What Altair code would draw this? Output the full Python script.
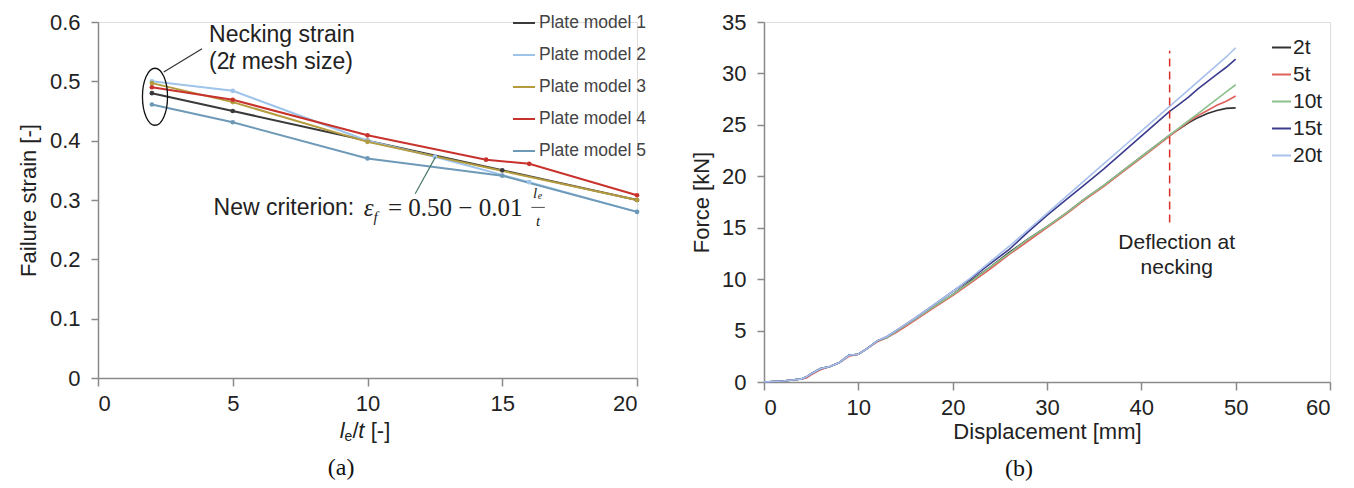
import altair as alt
import pandas as pd

# ---------------- Panel (a) data ----------------
models = ["Plate model 1", "Plate model 2", "Plate model 3", "Plate model 4", "Plate model 5"]
model_colors = ["#3a3a3a", "#9ec4ea", "#b39b3e", "#c8322c", "#6e9ab8"]
m1_x = [2, 5, 10, 15, 20]
m1_y = [0.480, 0.450, 0.400, 0.350, 0.300]
m2_x = [2, 5, 10, 12.5, 16, 20]
m2_y = [0.500, 0.484, 0.400, 0.373, 0.330, 0.280]
m3_x = [2, 5, 10, 20]
m3_y = [0.497, 0.465, 0.398, 0.300]
m4_x = [2, 5, 10, 14.4, 16, 20]
m4_y = [0.490, 0.469, 0.409, 0.368, 0.361, 0.308]
m5_x = [2, 5, 10, 15, 20]
m5_y = [0.461, 0.431, 0.370, 0.341, 0.280]

# ---------------- Panel (b) data ----------------
meshes = ["2t", "5t", "10t", "15t", "20t"]
mesh_colors = ["#333333", "#e0605a", "#8cc08c", "#3b3b8f", "#a7c0ec"]
disp = [0, 1, 2, 3, 4, 4.5, 5, 6, 7, 8, 9, 10, 11, 12, 13, 14, 15, 16, 18, 20, 22, 24, 26,
        28, 30, 32, 34, 36, 38, 40, 42, 43, 44, 45, 46, 47, 48, 49, 50]
f_2t = [0, 0.05, 0.1, 0.2, 0.3, 0.5, 0.8, 1.3, 1.5, 1.9, 2.6, 2.7, 3.3, 4.0, 4.3, 4.9, 5.5, 6.1, 7.3, 8.5,
        9.9, 11.2, 12.6, 13.9, 15.1, 16.4, 17.8, 19.1, 20.5, 21.9, 23.3, 24.0, 24.6, 25.2, 25.7, 26.1,
        26.4, 26.6, 26.65]
f_5t = [0, 0.05, 0.1, 0.2, 0.3, 0.4, 0.7, 1.2, 1.5, 1.9, 2.5, 2.7, 3.3, 3.9, 4.3, 4.8, 5.4, 6.0, 7.2, 8.4,
        9.7, 11.0, 12.4, 13.7, 15.0, 16.3, 17.7, 19.0, 20.4, 21.8, 23.2, 23.9, 24.6, 25.3, 25.9, 26.4,
        26.9, 27.3, 27.8]
f_10t = [0, 0.05, 0.1, 0.2, 0.3, 0.5, 0.8, 1.3, 1.5, 1.9, 2.6, 2.7, 3.3, 4.0, 4.3, 4.9, 5.5, 6.1, 7.3, 8.5,
         9.8, 11.2, 12.5, 13.9, 15.1, 16.4, 17.8, 19.1, 20.5, 21.9, 23.3, 24.0, 24.7, 25.4, 26.1, 26.8,
         27.5, 28.2, 28.9]
f_15t = [0, 0.05, 0.1, 0.2, 0.3, 0.5, 0.8, 1.3, 1.5, 1.9, 2.6, 2.7, 3.3, 4.0, 4.4, 5.0, 5.6, 6.2, 7.5, 8.8,
         10.1, 11.5, 12.9, 14.6, 16.2, 17.7, 19.2, 20.7, 22.3, 23.9, 25.5, 26.3, 27.0, 27.7, 28.5, 29.2,
         29.9, 30.6, 31.4]
f_20t = [0, 0.05, 0.1, 0.2, 0.3, 0.5, 0.8, 1.3, 1.5, 1.9, 2.6, 2.7, 3.3, 4.0, 4.4, 5.0, 5.6, 6.2, 7.5, 8.8,
         10.2, 11.7, 13.2, 14.8, 16.4, 18.0, 19.6, 21.2, 22.8, 24.4, 26.0, 26.8, 27.6, 28.4, 29.2, 30.0,
         30.8, 31.6, 32.5]

SANS = "Liberation Sans"
SERIF = "Liberation Serif"
AX = "#8a8a8a"
TXT = "#222222"

rows = []
for name, xs, ys in zip(models, [m1_x, m2_x, m3_x, m4_x, m5_x], [m1_y, m2_y, m3_y, m4_y, m5_y]):
    for x, y in zip(xs, ys):
        rows.append({"model": name, "ratio": x, "strain": y})
left_df = pd.DataFrame(rows)

rows = []
for name, ys in zip(meshes, [f_2t, f_5t, f_10t, f_15t, f_20t]):
    for x, y in zip(disp, ys):
        rows.append({"mesh": name, "disp": x, "force": y})
right_df = pd.DataFrame(rows)

one = pd.DataFrame({"a": [0]})


def axis_common(**kw):
    return alt.Axis(domainColor=AX, domainWidth=1.5, tickColor=AX, tickWidth=1.5, grid=False,
                    labelFont=SANS, labelFontSize=22, labelColor=TXT,
                    titleFont=SANS, titleFontSize=22, titleFontWeight="normal", titleColor=TXT, **kw)


xL = alt.X("ratio:Q", scale=alt.Scale(domain=[0, 20], nice=False),
           axis=axis_common(values=[0, 5, 10, 15, 20], title=None, tickSize=8, labelPadding=7))
yL = alt.Y("strain:Q", scale=alt.Scale(domain=[0, 0.6], nice=False),
           axis=axis_common(values=[0, 0.1, 0.2, 0.3, 0.4, 0.5, 0.6], title="Failure strain [-]",
                            tickSize=7, labelPadding=11, titlePadding=9,
                            labelExpr="datum.value == 0 ? '0' : format(datum.value, '.1f')"))
colorL = alt.Color("model:N", scale=alt.Scale(domain=models, range=model_colors),
                   legend=alt.Legend(title=None, orient="none", legendX=414, legendY=-11,
                                     symbolType="stroke", symbolSize=484, symbolStrokeWidth=2,
                                     labelFont=SANS, labelFontSize=17.5, labelColor="#444444",
                                     rowPadding=11, labelOffset=3))

lines_a = alt.Chart(left_df).mark_line(strokeWidth=2).encode(x=xL, y=yL, color=colorL)
pts_a = alt.Chart(left_df).mark_point(filled=True, size=22, opacity=1).encode(
    x="ratio:Q", y="strain:Q",
    color=alt.Color("model:N", scale=alt.Scale(domain=models, range=model_colors), legend=None))


def txt(x, y, s, font=SANS, size=23, style="normal", align="left", color=TXT):
    return alt.Chart(one).mark_text(text=s, font=font, fontSize=size, fontStyle=style, align=align,
                                    baseline="middle", color=color).encode(x=alt.datum(x), y=alt.datum(y))


def seg(x1, y1, x2, y2, color="#333333", width=1.2, dash=None):
    kw = {"color": color, "strokeWidth": width}
    if dash:
        kw["strokeDash"] = dash
    return alt.Chart(one).mark_rule(**kw).encode(x=alt.datum(x1), y=alt.datum(y1),
                                                 x2=alt.datum(x2), y2=alt.datum(y2))


ellipse_path = "M -0.44 0 A 0.44 1 0 1 0 0.44 0 A 0.44 1 0 1 0 -0.44 0 Z"
ellipse = alt.Chart(one).mark_point(shape=ellipse_path, size=3249, filled=False, stroke="#111111",
                                    strokeWidth=1.3, opacity=1).encode(x=alt.datum(2.115), y=alt.datum(0.474))

annot_a = [
    txt(4.12, 0.5776, "Necking strain"),
    txt(4.12, 0.532, "(2"),
    txt(4.84, 0.532, "t", style="italic"),
    txt(5.33, 0.532, "mesh size)"),
    seg(3.86, 0.5551, 2.44, 0.5157),
    ellipse,
    seg(11.77, 0.3106, 12.52, 0.3723, color="#4a7a6a"),
    txt(4.29, 0.2858, "New criterion:"),
    txt(9.86, 0.2858, "ε", font=SERIF, size=25, style="italic"),
    txt(10.22, 0.272, "f", font=SERIF, size=15, style="italic"),
    txt(10.76, 0.2858, "= 0.50 − 0.01", font=SERIF, size=25),
    txt(16.14, 0.312, "l", font=SERIF, size=15, style="italic"),
    txt(16.32, 0.306, "e", font=SERIF, size=10, style="italic"),
    seg(16.08, 0.2875, 16.58, 0.2875, color=TXT, width=0.8),
    txt(16.33, 0.265, "t", font=SERIF, size=15, style="italic", align="center"),
    # x-axis title  l_e/t [-]
    txt(8.97, -0.0885, "l", size=22, style="italic"),
    txt(9.15, -0.0986, "e", size=14),
    txt(9.44, -0.0885, "/", size=22),
    txt(9.66, -0.0885, "t", size=22, style="italic"),
    txt(10.12, -0.0885, "[-]", size=22),
    txt(9.02, -0.151, "(a)", font=SERIF, size=24, align="center", color="#111111"),
]

left = alt.layer(lines_a, pts_a, *annot_a).properties(width=539, height=356)

# ---------------- Panel (b) ----------------
xR = alt.X("disp:Q", scale=alt.Scale(domain=[0, 60], nice=False),
           axis=axis_common(values=[0, 10, 20, 30, 40, 50, 60], title="Displacement [mm]",
                            tickSize=8, labelPadding=7, titlePadding=3))
yR = alt.Y("force:Q", scale=alt.Scale(domain=[0, 35], nice=False),
           axis=axis_common(values=[0, 5, 10, 15, 20, 25, 30, 35], title="Force [kN]",
                            tickSize=7, labelPadding=11, titlePadding=8))
colorR = alt.Color("mesh:N", scale=alt.Scale(domain=meshes, range=mesh_colors),
                   legend=alt.Legend(title=None, orient="none", legendX=507, legendY=15,
                                     symbolType="stroke", symbolSize=361, symbolStrokeWidth=2,
                                     labelFont=SANS, labelFontSize=21, labelColor=TXT,
                                     rowPadding=5, labelOffset=1))
lines_b = alt.Chart(right_df).mark_line(strokeWidth=1.6).encode(x=xR, y=yR, color=colorR)

annot_b = [
    seg(43, 15.5, 43, 32.2, color="#d9302a", width=1.5, dash=[8, 5]),
    txt(43.75, 13.54, "Deflection at", size=21, align="center"),
    txt(43.75, 11.1, "necking", size=21, align="center"),
    txt(27.04, -8.45, "(b)", font=SERIF, size=24, align="center", color="#111111"),
]

right = alt.layer(lines_b, *annot_b).properties(width=566, height=360)

chart = alt.hconcat(left, right, spacing=42).resolve_scale(color="independent").resolve_legend(
    color="independent").properties(
    padding={"left": 8, "top": 2, "right": 0, "bottom": 0}
).configure_view(stroke=None).configure(background="white")

chart.save("out.html", embed_options={"renderer": "svg", "actions": False})
